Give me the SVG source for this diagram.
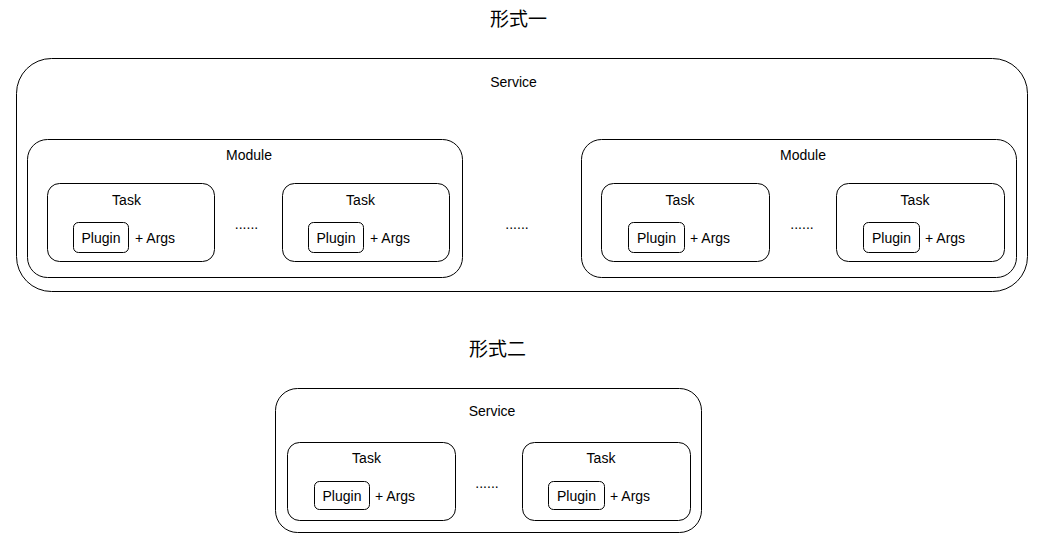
<svg xmlns="http://www.w3.org/2000/svg" width="1043" height="544" viewBox="0 0 1043 544">
<style>
.box{fill:#fff;stroke:#000;stroke-width:1}
.t{font-family:"Liberation Sans",Arial,sans-serif;font-size:14px;fill:#000;text-anchor:middle}
.ts{font-family:"Liberation Sans",Arial,sans-serif;font-size:14px;fill:#000}
.h{font-family:"Noto Sans CJK SC","Noto Sans CJK JP",sans-serif;font-size:19px;fill:#000;text-anchor:middle}
</style>
<rect width="1043" height="544" fill="#fff"/>
<text class="h" x="518.5" y="26">形式一</text>
<text class="h" x="497.5" y="356">形式二</text>

<g id="service1">
<rect class="box" x="16.5" y="58.5" width="1011" height="233" rx="35"/>
<text class="t" x="513.5" y="87">Service</text>
</g>
<g id="module1">
<rect class="box" x="27.5" y="139.5" width="435" height="138" rx="20"/>
<text class="t" x="249" y="160">Module</text>
</g>
<g id="task1">
<rect class="box" x="47.5" y="183.5" width="167" height="78" rx="12"/>
<text class="t" x="126.5" y="205">Task</text>
<rect class="box" x="73.5" y="222.5" width="55" height="30" rx="5"/>
<text class="t" x="101" y="243">Plugin</text>
<text class="ts" x="135" y="243">+ Args</text>
</g>
<text class="t" x="246.5" y="229">......</text>
<g id="task2">
<rect class="box" x="282.5" y="183.5" width="167" height="78" rx="12"/>
<text class="t" x="360.5" y="205">Task</text>
<rect class="box" x="308.5" y="222.5" width="55" height="30" rx="5"/>
<text class="t" x="336" y="243">Plugin</text>
<text class="ts" x="370" y="243">+ Args</text>
</g>
<text class="t" x="517" y="229">......</text>
<g id="module2">
<rect class="box" x="581.5" y="139.5" width="435" height="138" rx="20"/>
<text class="t" x="803" y="160">Module</text>
</g>
<g id="task3">
<rect class="box" x="601.5" y="183.5" width="168" height="78" rx="12"/>
<text class="t" x="680" y="205">Task</text>
<rect class="box" x="628.5" y="222.5" width="56" height="30" rx="5"/>
<text class="t" x="656.5" y="243">Plugin</text>
<text class="ts" x="690" y="243">+ Args</text>
</g>
<text class="t" x="802" y="229">......</text>
<g id="task4">
<rect class="box" x="836.5" y="183.5" width="168" height="78" rx="12"/>
<text class="t" x="915" y="205">Task</text>
<rect class="box" x="863.5" y="222.5" width="56" height="30" rx="5"/>
<text class="t" x="891.5" y="243">Plugin</text>
<text class="ts" x="925" y="243">+ Args</text>
</g>

<g id="service2">
<rect class="box" x="275.5" y="388.5" width="426" height="144" rx="22"/>
<text class="t" x="492" y="416">Service</text>
</g>
<g id="task5">
<rect class="box" x="287.5" y="442.5" width="168" height="78" rx="12"/>
<text class="t" x="366.5" y="463">Task</text>
<rect class="box" x="314.5" y="481.5" width="55" height="28" rx="5"/>
<text class="t" x="342" y="501">Plugin</text>
<text class="ts" x="375" y="501">+ Args</text>
</g>
<text class="t" x="487" y="488">......</text>
<g id="task6">
<rect class="box" x="522.5" y="442.5" width="168" height="78" rx="12"/>
<text class="t" x="601" y="463">Task</text>
<rect class="box" x="548.5" y="481.5" width="56" height="28" rx="5"/>
<text class="t" x="576.5" y="501">Plugin</text>
<text class="ts" x="610" y="501">+ Args</text>
</g>
<g id="connectors"/>
</svg>
